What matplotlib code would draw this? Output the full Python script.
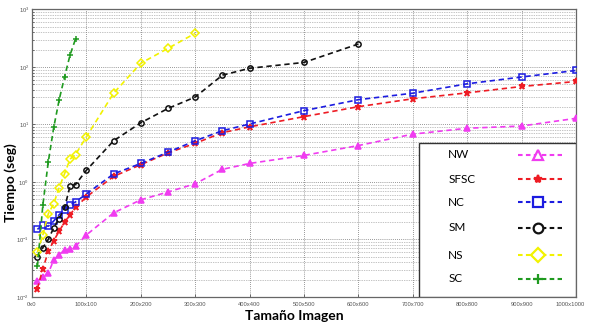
import numpy as np
import matplotlib
matplotlib.use("Agg")
import matplotlib.pyplot as plt
from matplotlib.patches import Rectangle
from matplotlib.ticker import FixedLocator, LogLocator, NullFormatter
from matplotlib.transforms import ScaledTranslation

# image sizes (N for an NxN image)
sizes = [10, 20, 30, 40, 50, 60, 70, 80, 100, 150, 200, 250, 300, 350, 400,
         500, 600, 700, 800, 900, 1000]

# execution time in seconds
t_nw = [0.019, 0.022, 0.026, 0.044, 0.054, 0.066, 0.068, 0.076, 0.12, 0.29,
        0.49, 0.67, 0.93, 1.66, 2.1, 2.9, 4.3, 6.8, 8.6, 9.4, 12.8]
t_sfsc = [0.014, 0.031, 0.062, 0.095, 0.14, 0.2, 0.27, 0.36, 0.55, 1.25,
          2.0, 3.2, 4.7, 7.2, 9.1, 13.7, 20.4, 28, 35.5, 45.8, 56]
t_nc = [0.15, 0.18, 0.17, 0.21, 0.27, 0.33, 0.40, 0.45, 0.62, 1.38, 2.1,
        3.3, 5.2, 7.8, 10.2, 17.4, 27, 35, 51, 67, 87]

sizes_sm = [10, 20, 30, 40, 50, 60, 70, 80, 100, 150, 200, 250, 300, 350,
            400, 500, 600]
t_sm = [0.05, 0.072, 0.1, 0.16, 0.23, 0.36, 0.85, 0.9, 1.6, 5.2, 10.7, 19,
        30, 72, 95, 120, 251]

sizes_ns = [10, 20, 30, 40, 50, 60, 70, 80, 100, 150, 200, 250, 300]
t_ns = [0.06, 0.12, 0.28, 0.42, 0.8, 1.4, 2.5, 3.0, 6.1, 35, 116, 211, 385]

sizes_sc = [10, 20, 30, 40, 50, 60, 70, 80]
t_sc = [0.034, 0.4, 2.25, 8.9, 27, 68, 162, 307]

x_ticks = list(range(0, 1001, 100))
x_tick_labels = [f"{v}x{v}" for v in x_ticks]

series = [
    ("NW", sizes, t_nw, "#f03cf0", "^"),
    ("SFSC", sizes, t_sfsc, "#ee1c24", "*"),
    ("NC", sizes, t_nc, "#1c1ce0", "s"),
    ("SM", sizes_sm, t_sm, "#111111", "o"),
    ("NS", sizes_ns, t_ns, "#f2f200", "D"),
    ("SC", sizes_sc, t_sc, "#1f9a1f", "+"),
]

fig = plt.figure(figsize=(5.89, 3.25), dpi=100)
ax = fig.add_axes([0.0543, 0.0862, 0.9236, 0.8846])

dash = (0, (3.2, 2.2))
for name, xs, ys, col, mk in series:
    face = col if mk in ("*", "+", "^") else "none"
    ms = {"*": 5, "+": 4.5, "D": 3.6}.get(mk, 3.8)
    ax.plot(xs, ys, linestyle=dash, color=col, lw=1.2, marker=mk, ms=ms,
            mfc=face, mec=col, mew=1.1, zorder=3)

ax.set_yscale("log")
ax.set_xlim(0, 1000)
ax.set_ylim(1e-2, 1e3)

ax.xaxis.set_major_locator(FixedLocator(x_ticks))
ax.set_xticklabels(x_tick_labels)
ax.yaxis.set_major_locator(LogLocator(base=10, numticks=10))
ax.yaxis.set_minor_locator(LogLocator(base=10, subs=np.arange(2, 10), numticks=20))
ax.yaxis.set_minor_formatter(NullFormatter())

ax.tick_params(axis="both", which="both", direction="in", colors="#555555",
               labelsize=4.2, length=2, width=0.6)
ax.tick_params(axis="x", pad=3.5)
ax.tick_params(axis="y", pad=2)
ax.tick_params(axis="y", which="minor", length=1.2)
for lab in ax.get_xticklabels() + ax.get_yticklabels():
    lab.set_family("Liberation Sans")
# keep the last x label inside the image
last = ax.get_xticklabels()[-1]
last.set_transform(last.get_transform() +
                   ScaledTranslation(-6 / 100, 0, fig.dpi_scale_trans))

ax.grid(True, which="major", axis="both", linestyle=(0, (1, 1.5)),
        color="#777777", lw=0.6)
ax.grid(True, which="minor", axis="y", linestyle=(0, (1, 1.5)),
        color="#888888", lw=0.5)
ax.set_axisbelow(True)

for sp in ax.spines.values():
    sp.set_color("#666666")
    sp.set_linewidth(0.9)

ax.set_xlabel("Tamaño Imagen", fontsize=10, fontweight="bold",
              family="Lato")
ax.xaxis.set_label_coords(0.483, -0.045)
ax.xaxis.label.set_va("top")
ax.set_ylabel("Tiempo (seg)", fontsize=10, fontweight="bold",
              family="Lato")
ax.yaxis.set_label_coords(-0.027, 0.397)

# hand-made legend: name on the left, dashed sample with marker on the right
ax.add_patch(Rectangle((0.711, 0.0), 0.289, 0.536, transform=ax.transAxes,
                       facecolor="white", edgecolor="#333333", lw=1.0,
                       zorder=5))
rows_y = [0.494, 0.410, 0.330, 0.240, 0.146, 0.063]
for (name, xs, ys, col, mk), ry in zip(series, rows_y):
    ax.text(0.765, ry, name, transform=ax.transAxes, fontsize=8.5,
            family="Lato", va="center", ha="left", zorder=6)
    ax.plot([0.893, 0.974], [ry, ry], transform=ax.transAxes,
            linestyle=(0, (2.2, 1.6)), color=col, lw=1.5, zorder=6,
            clip_on=False)
    face = col if mk == "*" else "white"
    ax.plot([0.930], [ry], transform=ax.transAxes, marker=mk,
            ms=7 if mk != "*" else 6, mfc=face, mec=col, mew=1.6,
            zorder=7, clip_on=False, linestyle="none")

fig.savefig("out.png", dpi=100)
